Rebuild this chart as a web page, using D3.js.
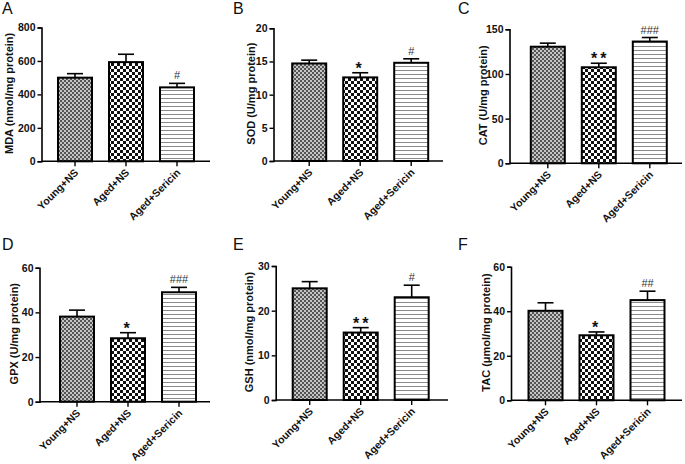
<!DOCTYPE html>
<html><head><meta charset="utf-8">
<script src="https://cdn.jsdelivr.net/npm/d3@7"></script>
<style>body{margin:0;background:#fff}svg{display:block}text{font-family:"Liberation Sans",Arial,sans-serif}</style>
</head><body><svg id="c" width="685" height="464"></svg>
<script>
const categories = ["Young+NS", "Aged+NS", "Aged+Sericin"];
const panelLetters = ["A", "B", "C", "D", "E", "F"];
const yLabels = ["MDA (nmol/mg protein)", "SOD (U/mg protein)", "CAT (U/mg protein)",
                 "GPX (U/mg protein)", "GSH (nmol/mg protein)", "TAC (\u03bcmol/mg protein)"];
const yMax = [800, 20, 150, 60, 30, 60];
const yStep = [200, 5, 50, 20, 10, 20];
const mdaMean = [500, 593, 442];   const mdaErr = [24, 47, 24];
const sodMean = [14.7, 12.6, 14.8]; const sodErr = [0.5, 0.7, 0.6];
const catMean = [130.5, 107.5, 136.3]; const catErr = [4, 4.5, 4.5];
const gpxMean = [38.1, 28.4, 49]; const gpxErr = [2.9, 2.5, 2.2];
const gshMean = [25, 15.1, 23]; const gshErr = [1.5, 1.1, 2.7];
const tacMean = [40.2, 29.2, 45]; const tacErr = [3.6, 1.5, 4];
const sigLabels = [["", "", "#"], ["", "*", "#"], ["", "**", "###"],
                   ["", "*", "###"], ["", "**", "#"], ["", "*", "##"]];
const means = [mdaMean, sodMean, catMean, gpxMean, gshMean, tacMean];
const errs = [mdaErr, sodErr, catErr, gpxErr, gshErr, tacErr];

// layout (pixel positions of each panel's axes)
const layout = [
  {ax: 41.5, xe: 210, yt: 27.5, y0: 161.3, off: 33.5, lb: 12.5, lx: 2,   ly: 14},
  {ax: 273.5, xe: 443, yt: 28.3, y0: 161, off: 35.7, lb: 255,  lx: 233, ly: 14},
  {ax: 509.5, xe: 682, yt: 29.3, y0: 163.3, off: 38.3, lb: 486.5, lx: 458, ly: 14},
  {ax: 39.5, xe: 210, yt: 267.7, y0: 401.7, off: 37.5, lb: 18,  lx: 2,   ly: 250},
  {ax: 275.7, xe: 448, yt: 266, y0: 400, off: 34, lb: 253,     lx: 233, ly: 250},
  {ax: 511, xe: 682, yt: 266.7, y0: 400.3, off: 34.5, lb: 490, lx: 458, ly: 250}
];
const svg = d3.select("#c");
const defs = svg.append("defs");
// fine checker
const p1 = defs.append("pattern").attr("id", "pFine").attr("patternUnits", "userSpaceOnUse").attr("width", 4).attr("height", 4);
p1.append("rect").attr("width", 4).attr("height", 4).attr("fill", "#c4c4c4");
p1.append("rect").attr("width", 2).attr("height", 2).attr("fill", "#555");
p1.append("rect").attr("x", 2).attr("y", 2).attr("width", 2).attr("height", 2).attr("fill", "#555");
// coarse checker
const p2 = defs.append("pattern").attr("id", "pCoarse").attr("patternUnits", "userSpaceOnUse").attr("width", 6).attr("height", 6);
p2.append("rect").attr("width", 6).attr("height", 6).attr("fill", "#fff");
p2.append("rect").attr("width", 3).attr("height", 3).attr("fill", "#111");
p2.append("rect").attr("x", 3).attr("y", 3).attr("width", 3).attr("height", 3).attr("fill", "#111");
// horizontal lines
const p3 = defs.append("pattern").attr("id", "pLines").attr("patternUnits", "userSpaceOnUse").attr("width", 4).attr("height", 4);
p3.append("rect").attr("width", 4).attr("height", 4).attr("fill", "#fff");
p3.append("rect").attr("y", 2).attr("width", 4).attr("height", 1).attr("fill", "#8a8a8a");
const fills = ["url(#pFine)", "url(#pCoarse)", "url(#pLines)"];

layout.forEach((L, i) => {
  const g = svg.append("g");
  const y = d3.scaleLinear().domain([0, yMax[i]]).range([L.y0, L.yt]);
  const step = 51, bw = 34;
  const x = d3.scaleBand().domain(categories)
    .range([L.ax + L.off - step / 2, L.ax + L.off - step / 2 + step * categories.length])
    .paddingInner(1 - bw / step).paddingOuter((1 - bw / step) / 2);
  // bars
  g.selectAll("rect.bar").data(categories).join("rect")
    .attr("x", d => x(d)).attr("width", x.bandwidth())
    .attr("y", (d, j) => y(means[i][j])).attr("height", (d, j) => L.y0 - y(means[i][j]))
    .attr("fill", (d, j) => fills[j]).attr("stroke", "#000").attr("stroke-width", 2);
  // error bars
  categories.forEach((c, j) => {
    const cx = x(c) + x.bandwidth() / 2;
    const top = y(means[i][j] + errs[i][j]);
    g.append("line").attr("x1", cx).attr("x2", cx).attr("y1", y(means[i][j])).attr("y2", top)
      .attr("stroke", "#000").attr("stroke-width", 1.6);
    g.append("line").attr("x1", cx - 8).attr("x2", cx + 8).attr("y1", top).attr("y2", top)
      .attr("stroke", "#000").attr("stroke-width", 1.6);
    const s = sigLabels[i][j];
    if (s) {
      const star = s.includes("*");
      g.append("text").attr("x", cx + (star && s.length > 1 ? 1.5 : 0)).attr("y", star ? top + 1 : top - 4)
        .attr("text-anchor", "middle")
        .attr("font-size", star ? 16 : 11).attr("font-weight", star ? "bold" : "normal")
        .attr("fill", star ? "#111" : "#333").attr("letter-spacing", star ? 3 : 0)
        .text(s);
    }
  });
  // y axis
  const ya = g.append("g").attr("transform", `translate(${L.ax},0)`)
    .call(d3.axisLeft(y).tickValues(d3.range(0, yMax[i] + 1e-9, yStep[i])).tickSize(4).tickPadding(2));
  ya.select(".domain").attr("stroke-width", 1.6);
  ya.selectAll(".tick line").attr("stroke-width", 1.4);
  ya.selectAll(".tick text").attr("font-size", 10.5).attr("font-weight", "bold").attr("fill", "#111")
    .style("font-family", '"Liberation Sans",Arial,sans-serif');
  // x axis
  const xa = g.append("g").attr("transform", `translate(0,${L.y0})`)
    .call(d3.axisBottom(x).tickSize(5).tickSizeOuter(0));
  xa.select(".domain").attr("d", `M${L.ax},0H${L.xe}`).attr("stroke-width", 1.6);
  xa.selectAll(".tick line").attr("stroke-width", 1.4);
  xa.selectAll(".tick text").attr("font-size", 10.5).attr("font-weight", "bold").attr("fill", "#111")
    .style("font-family", '"Liberation Sans",Arial,sans-serif')
    .attr("text-anchor", "end").attr("dy", 0).attr("y", 0)
    .attr("transform", "translate(4,12) rotate(-45)");
  // y label
  g.append("text").attr("transform", `translate(${L.lb},${(L.y0 + L.yt) / 2 - 1}) rotate(-90)`)
    .attr("text-anchor", "middle").attr("font-size", 11).attr("font-weight", "bold").attr("fill", "#111")
    .text(yLabels[i]);
  // panel letter
  g.append("text").attr("x", L.lx).attr("y", L.ly)
    .attr("font-size", 16).attr("fill", "#111").text(panelLetters[i]);
});
</script></body></html>
